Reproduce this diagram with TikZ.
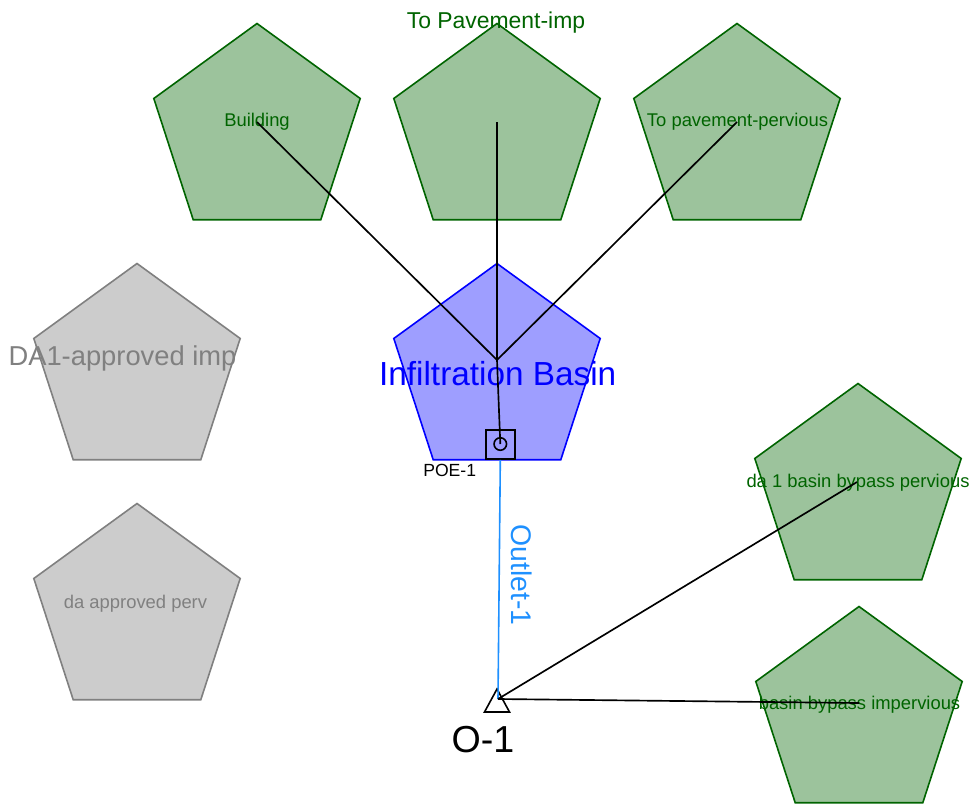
\documentclass[tikz,border=0pt]{standalone}
\usepackage{fontspec}
\setmainfont{Liberation Sans}
\definecolor{pgfill}{RGB}{156,195,156}
\definecolor{pgline}{RGB}{0,100,0}
\definecolor{pbfill}{RGB}{158,158,255}
\definecolor{pbline}{RGB}{0,0,255}
\definecolor{pyfill}{RGB}{204,204,204}
\definecolor{pyline}{RGB}{128,128,128}
\definecolor{outblue}{RGB}{30,144,255}
\newcommand\pentashape[3]{\draw[#1,shift={(#2,#3)}] (-90:108.5) -- (-18:108.5) -- (54:108.5) -- (126:108.5) -- (198:108.5) -- cycle;}
\tikzset{
  greenpent/.style={fill=pgfill,draw=pgline,line width=1.2pt,line join=miter},
  bluepent/.style={fill=pbfill,draw=pbline,line width=1.2pt},
  graypent/.style={fill=pyfill,draw=pyline,line width=1.2pt},
  lbl/.style={inner sep=0pt,outer sep=0pt,anchor=base},
  glbl/.style={lbl,text=pgline,font=\fontsize{13.8}{16}\selectfont},
  conn/.style={draw=black,line width=1.25pt},
  outconn/.style={draw=outblue,line width=1.2pt}
}
\begin{document}
\begin{tikzpicture}[x=0.75pt,y=-0.75pt]
\useasboundingbox (0,0) rectangle (974,804);
% pentagons
\pentashape{greenpent}{257}{132}
\pentashape{greenpent}{497}{132}
\pentashape{greenpent}{737}{132}
\pentashape{bluepent}{497}{372}
\pentashape{graypent}{137}{372}
\pentashape{graypent}{137}{612}
\pentashape{greenpent}{858}{492}
\pentashape{greenpent}{859}{715}
% anchor points
\coordinate (bld) at (257,122);
\coordinate (pimp) at (497,122);
\coordinate (pperv) at (737,122);
\coordinate (basin) at (497,360);
\coordinate (dbp) at (857,482);
\coordinate (bbi) at (859,703);
\coordinate (out) at (498,699);
% labels
\node[lbl,text=pgline,font=\fontsize{17.2}{20}\selectfont] (tpimp) at (496,28.3) {To Pavement-imp};
\node[glbl] (tbld) at (257,126.7) {Building};
\node[glbl] (tpperv) at (737.5,126.7) {To pavement-pervious};
\node[lbl,text=pbline,font=\fontsize{25}{28}\selectfont] (tbasin) at (497.7,385) {Infiltration Basin};
\node[lbl,text=pyline,font=\fontsize{20.5}{24}\selectfont] (tda1) at (122.5,365) {DA1-approved imp};
\node[lbl,text=pyline,font=\fontsize{13.8}{16}\selectfont] (tdap) at (135.5,608) {da approved perv};
\node[glbl] (tdbp) at (858,487.3) {da 1 basin bypass pervious};
\node[glbl] (tbbi) at (859.5,709) {basin bypass impervious};
\node[lbl,font=\fontsize{13.2}{16}\selectfont] (tpoe) at (449.7,476.7) {POE-1};
\node[lbl,font=\fontsize{28.2}{32}\selectfont] (tout) at (483,752.7) {O-1};
\node[lbl,text=outblue,rotate=-90,font=\fontsize{21.3}{24}\selectfont] (toutlet) at (511.5,575) {Outlet-1};
% POE symbol
\node[draw=black,line width=1.2pt,minimum size=29*0.75pt,inner sep=0pt] (poe) at (500.3,444.5) {};
\node[draw=black,line width=1.2pt,circle,minimum size=12.5*0.75pt,inner sep=0pt] (poec) at (500.3,444) {};
% outlet triangle
\draw[line width=1.2pt,line join=miter] (497,689) -- (509.5,712) -- (484.5,712) -- cycle;
% connectors
\draw[outconn] (poe.south) -- (out);
\draw[conn] (bld) -- (basin);
\draw[conn] (pimp) -- (basin);
\draw[conn] (pperv) -- (basin);
\draw[conn] (basin) -- (poec.center);
\draw[conn] (dbp) -- (out);
\draw[conn] (bbi) -- (out);
\end{tikzpicture}
\end{document}
